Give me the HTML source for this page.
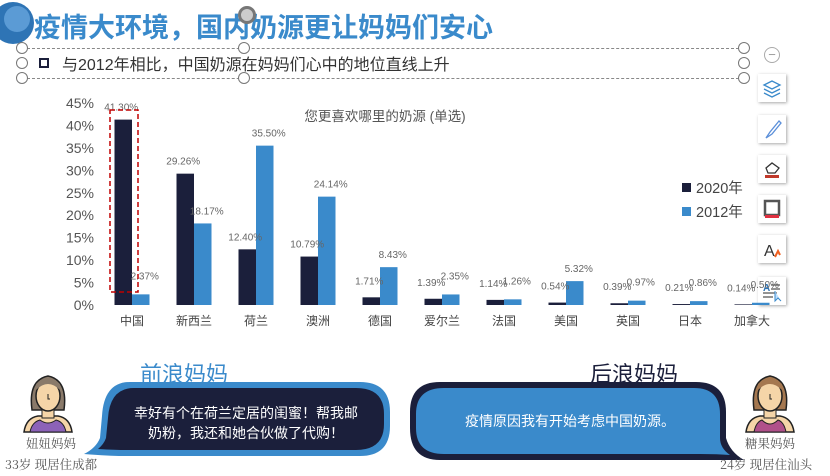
<!DOCTYPE html>
<html><head><meta charset="utf-8">
<style>
body{margin:0;width:830px;height:476px;background:#fff;overflow:hidden;position:relative;font-family:"Liberation Sans","Noto Sans CJK SC",sans-serif;}
.abs{position:absolute;}
.tb{position:absolute;left:758px;width:28px;height:28px;background:#fff;box-shadow:1px 1px 3px rgba(0,0,0,.35);}
.h{position:absolute;width:10px;height:10px;border:1px solid #777;border-radius:50%;background:#fff;}
</style></head><body>
<div class="abs" style="left:-8px;top:2px;width:42px;height:42px;border-radius:50%;background:#2e74b5;"></div>
<div class="abs" style="left:4px;top:6px;width:26px;height:26px;border-radius:50%;background:#5b9bd5;"></div>
<div class="abs" style="left:34px;top:6px;font-size:27px;font-weight:bold;color:#3a8acb;">疫情大环境，国内奶源更让妈妈们安心</div>
<div class="abs" style="left:238px;top:6px;width:12px;height:12px;border-radius:50%;border:3px solid #777;background:#ccc;"></div>
<div class="abs" style="left:22px;top:48px;width:722px;height:29px;border-top:1px dashed #888;border-bottom:1px dashed #888;"></div>
<div class="h" style="left:16px;top:42px"></div>
<div class="h" style="left:238px;top:42px"></div>
<div class="h" style="left:738px;top:42px"></div>
<div class="h" style="left:16px;top:57px"></div>
<div class="h" style="left:738px;top:57px"></div>
<div class="h" style="left:16px;top:72px"></div>
<div class="h" style="left:238px;top:72px"></div>
<div class="h" style="left:738px;top:72px"></div>
<div class="abs" style="left:39px;top:58px;width:6px;height:6px;border:2px solid #1b1f3b;"></div>
<div class="abs" style="left:62px;top:51px;font-size:16px;color:#333;">与2012年相比，中国奶源在妈妈们心中的地位直线上升</div>
<div class="abs" style="left:764px;top:47px;width:14px;height:14px;border:1.5px solid #aaa;border-radius:50%;text-align:center;line-height:13px;color:#999;font-size:13px;">−</div>
<div class="tb" style="top:74px"><svg width="28" height="28"><path d="M6 11 L14 7 L22 11 L14 15Z M6 15 L14 19 L22 15 M6 19 L14 23 L22 19" fill="none" stroke="#3a8acb" stroke-width="1.3"/></svg></div>
<div class="tb" style="top:115px"><svg width="28" height="28"><path d="M21 6 L12 17 L8 23 L14 19 L23 8Z" fill="none" stroke="#5b8fd9" stroke-width="1.3"/></svg></div>
<div class="tb" style="top:155px"><svg width="28" height="28"><path d="M8 13 L14 8 L21 13 L17 18 L10 18Z" fill="none" stroke="#333" stroke-width="1.3"/><rect x="7" y="20" width="14" height="3" fill="#c0392b"/></svg></div>
<div class="tb" style="top:195px"><svg width="28" height="28"><rect x="7" y="6" width="14" height="14" fill="none" stroke="#555" stroke-width="2.5"/><rect x="7" y="20" width="14" height="3" fill="#e03040"/></svg></div>
<div class="tb" style="top:235px"><svg width="28" height="28"><text x="6" y="21" font-size="16" fill="#333" font-family="Liberation Sans">A</text><path d="M17 22 L20 16 L22 20" stroke="#f06020" stroke-width="2" fill="none"/></svg></div>
<div class="tb" style="top:277px"><svg width="28" height="28"><text x="5" y="14" font-size="10" font-weight="bold" fill="#2e74b5" font-family="Liberation Sans">A</text><path d="M13 8h9M13 12h9M5 16h14M5 20h10" stroke="#555" stroke-width="1.3"/><path d="M17 14 L17 24 L20 21 L23 24" fill="#bfe0ff" stroke="#3a8acb"/></svg></div>

<svg class="abs" style="left:0;top:0" width="830" height="340">
<g id="chart"></g>
</svg>

<div class="abs" style="left:140px;top:357px;font-size:22px;color:#3a8acb;">前浪妈妈</div>
<div class="abs" style="left:590px;top:357px;font-size:22px;color:#1b1f3b;">后浪妈妈</div>
<svg class="abs" style="left:0;top:376px" width="830" height="100">
<path d="M130 6 Q104 6 102 40 L100 62 Q96 72 84 78 Q110 80 122 80 L360 80 Q390 80 390 50 L390 36 Q390 6 360 6Z" fill="#3a8acb"/>
<path d="M134 12 Q110 12 108 42 L106 62 Q104 68 98 73 Q116 74 126 74 L356 74 Q384 74 384 48 L384 38 Q384 12 356 12Z" fill="#1b1f3b"/>
<path d="M440 6 Q410 6 410 36 L410 52 Q410 84 440 84 L700 84 Q724 84 744 84 Q730 76 726 62 L726 36 Q726 6 696 6Z" fill="#1b1f3b"/>
<path d="M444 12 Q416 12 416 38 L416 52 Q416 78 444 78 L700 78 Q718 78 730 79 Q720 72 720 62 L720 38 Q720 12 694 12Z" fill="#3a8acb"/>
</svg>
<div class="abs" style="left:112px;top:403px;width:268px;color:#fff;font-size:14px;line-height:20px;text-align:center;">幸好有个在荷兰定居的闺蜜！帮我邮<br>奶粉，我还和她合伙做了代购！</div>
<div class="abs" style="left:420px;top:411px;width:300px;color:#fff;font-size:14px;text-align:center;">疫情原因我有开始考虑中国奶源。</div>

<svg class="abs" style="left:18px;top:370px" width="60" height="64">
<path d="M14 40 Q10 10 30 6 Q50 10 46 40Z" fill="#8a7a6a" stroke="#222" stroke-width="1.5"/>
<path d="M6 62 Q8 48 20 46 L40 46 Q52 48 54 62Z" fill="#f5d5a8" stroke="#222" stroke-width="1.5"/>
<path d="M12 62 Q14 52 22 50 Q30 56 38 50 Q46 52 48 62Z" fill="#8c62b8" stroke="#222" stroke-width="1"/>
<rect x="24" y="36" width="12" height="12" fill="#f5d5a8" stroke="#222"/>
<ellipse cx="30" cy="26" rx="12" ry="15" fill="#f5d5a8" stroke="#222" stroke-width="1.5"/>
<path d="M18 20 Q30 8 42 20 L42 14 Q30 4 18 14Z" fill="#8a7a6a"/>
<path d="M30 24 v5 h2" stroke="#222" fill="none"/>
</svg>
<div class="abs" style="left:26px;top:434px;font-size:12.5px;color:#555;font-family:'Noto Serif CJK SC',serif;">妞妞妈妈</div>
<div class="abs" style="left:5px;top:455px;font-size:12.5px;color:#555;font-family:'Noto Serif CJK SC',serif;">33岁 现居住成都</div>

<svg class="abs" style="left:740px;top:370px" width="60" height="64">
<path d="M14 40 Q10 10 30 6 Q50 10 46 40Z" fill="#a57850" stroke="#222" stroke-width="1.5"/>
<path d="M6 62 Q8 48 20 46 L40 46 Q52 48 54 62Z" fill="#f5d5a8" stroke="#222" stroke-width="1.5"/>
<path d="M14 62 Q16 52 22 50 Q30 58 38 50 Q44 52 46 62Z" fill="#b0508a" stroke="#222" stroke-width="1"/>
<rect x="24" y="36" width="12" height="12" fill="#f5d5a8" stroke="#222"/>
<ellipse cx="30" cy="26" rx="12" ry="15" fill="#f5d5a8" stroke="#222" stroke-width="1.5"/>
<path d="M18 20 Q30 8 42 20 L42 14 Q30 4 18 14Z" fill="#a57850"/>
<path d="M30 24 v5 h2" stroke="#222" fill="none"/>
</svg>
<div class="abs" style="left:745px;top:434px;font-size:12.5px;color:#555;font-family:'Noto Serif CJK SC',serif;">糖果妈妈</div>
<div class="abs" style="left:720px;top:455px;font-size:12.5px;color:#555;font-family:'Noto Serif CJK SC',serif;">24岁 现居住汕头</div>

<script>
const categories=["中国","新西兰","荷兰","澳洲","德国","爱尔兰","法国","美国","英国","日本","加拿大"];
const values2020=[41.30,29.26,12.40,10.79,1.71,1.39,1.14,0.54,0.39,0.21,0.14];
const values2012=[2.37,18.17,35.50,24.14,8.43,2.35,1.26,5.32,0.97,0.86,0.50];
const yTicks=[0,5,10,15,20,25,30,35,40,45];
const NS="http://www.w3.org/2000/svg";
const g=document.getElementById('chart');
const y0=305,yTop=103,yMax=45;
function y(v){return y0-(v/yMax)*(y0-yTop);}
function xc(i){return 132+i*62;}
const bw=17.5;
function mk(tag,attrs,txt){const e=document.createElementNS(NS,tag);for(const k in attrs)e.setAttribute(k,attrs[k]);if(txt!==undefined)e.textContent=txt;g.appendChild(e);return e;}
yTicks.forEach(t=>{
  const e=mk('text',{x:94,y:y(t)+5,'text-anchor':'end','font-size':14,fill:'#555','font-family':'Liberation Sans, sans-serif'},t+'%');
  
  
});
categories.forEach((c,i)=>{
  const cx=xc(i);
  const a=mk('rect',{x:cx-bw,y:y(values2020[i]),width:bw,height:y0-y(values2020[i]),fill:'#1b1f3b'});
  
  
  const b=mk('rect',{x:cx,y:y(values2012[i]),width:bw,height:y0-y(values2012[i]),fill:'#3a8acb'});
  
  
  const l1=mk('text',{x:cx-bw/2-2,y:y(values2020[i])-9-(values2020[i]<3?4:0),'text-anchor':'middle','font-size':10,fill:'#666','font-family':'Liberation Sans, sans-serif'},values2020[i].toFixed(2)+'%');
  
  
  const l2=mk('text',{x:cx+bw/2+4,y:y(values2012[i])-9-(values2012[i]<3?6:0),'text-anchor':'middle','font-size':10,fill:'#666','font-family':'Liberation Sans, sans-serif'},values2012[i].toFixed(2)+'%');
  
  
  const cl=mk('text',{x:cx,y:325,'text-anchor':'middle','font-size':12,fill:'#444','font-family':'Liberation Sans, Noto Sans CJK SC, sans-serif'},c);
  
  
});
const t=mk('text',{x:385,y:121,'text-anchor':'middle','font-size':13.5,fill:'#555','font-family':'Liberation Sans, Noto Sans CJK SC, sans-serif'},'您更喜欢哪里的奶源 (单选)');


const hb=mk('rect',{x:110,y:110,width:28,height:182,fill:'none',stroke:'#c00000','stroke-width':1.5,'stroke-dasharray':'5,3'});


[['2020年','#1b1f3b',192],['2012年','#3a8acb',216]].forEach(([lab,col,yy])=>{
  const r=mk('rect',{x:682,y:yy-9,width:9,height:9,fill:col});
  
  
  const tx=mk('text',{x:696,y:yy+1,'font-size':14.5,fill:'#444','font-family':'Liberation Sans, Noto Sans CJK SC, sans-serif'},lab);
  
  
});
</script>
</body></html>
